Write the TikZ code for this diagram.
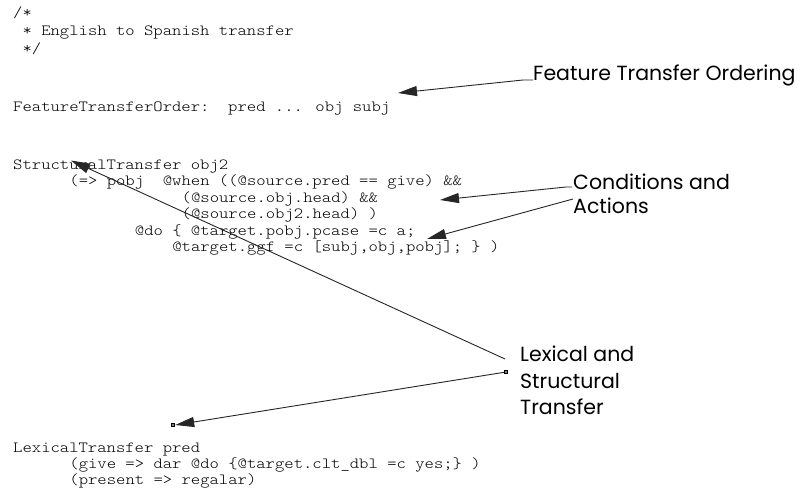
\documentclass[tikz,border=0pt]{standalone}
\usepackage{fontspec}
\usetikzlibrary{arrows.meta}
\newfontfamily\labfont{Poppins}
\newfontfamily\codefont[Extension=.otf,FakeStretch=1.149]{lmmonolt10-regular}
\tikzset{
  code/.style={anchor=base west, inner sep=0pt, font=\codefont\fontsize{15.5}{16}\selectfont},
  lab/.style={anchor=base west, inner sep=0pt, font=\labfont\fontsize{20.5}{22}\selectfont},
  pointer/.style={draw=black!85, line width=0.9pt, -{Triangle[length=19pt,width=10pt]}},
  endsq/.style={draw=black, fill=black!50, line width=0.9pt, inner sep=0pt, minimum size=3.5pt}
}
\begin{document}
\begin{tikzpicture}[x=1pt,y=-1pt]
\path[use as bounding box, fill=white] (0,0) rectangle (801,495);
% code
\node[code] (c1) at (13,18) {/*};
\node[code] (c2) at (22.4,36) {* English to Spanish transfer};
\node[code] (c3) at (22.4,54) {*/};
\node[code] (c4) at (13,111) {FeatureTransferOrder:~~pred ... obj subj};
\node[code] (c5) at (13,169) {StructuralTransfer obj2};
\node[code] (c6) at (69.2,185.5) {(=> pobj~~@when ((@source.pred == give) \&\&};
\node[code] (c7) at (181.5,202) {(@source.obj.head) \&\&};
\node[code] (c8) at (181.5,218.5) {(@source.obj2.head) )};
\node[code] (c9) at (134.7,235) {@do \{ @target.pobj.pcase =c a;};
\node[code] (c10) at (172.1,251.5) {@target.ggf =c [subj,obj,pobj]; \} )};
\node[code] (c11) at (13,452) {LexicalTransfer pred};
\node[code] (c12) at (69.2,468) {(give => dar @do \{@target.clt\_dbl =c yes;\} )};
\node[code] (c13) at (69.2,484) {(present => regalar)};
% labels
\node[lab] (fto) at (533,81) {Feature Transfer Ordering};
\node[lab] (conda) at (573,189) {Conditions and};
\node[lab] (condb) at (573,213.5) {Actions};
\node[lab] (lexa) at (520,361) {Lexical and};
\node[lab] (lexb) at (520,388) {Structural};
\node[lab] (lexc) at (520,414) {Transfer};
% connector ends
\coordinate (ftoS) at (533,80);
\coordinate (ftoK) at (523,80);
\coordinate (ftoT) at (398,93);
\coordinate (condS) at (572,187);
\coordinate (condK) at (566,187);
\coordinate (condT) at (440,200);
\coordinate (actS) at (573,199);
\coordinate (actT) at (427,239);
\coordinate (lexS) at (505,359);
\coordinate (lexT) at (71,160.5);
\node[endsq] (sqA) at (506,372) {};
\node[endsq] (sqB) at (173,425) {};
% connectors
\draw[pointer] (ftoS) -- (ftoK) -- (ftoT);
\draw[pointer] (condS) -- (condK) -- (condT);
\draw[pointer] (actS) -- (actT);
\draw[pointer] (lexS) -- (lexT);
\draw[pointer] (sqA) -- (sqB.east);
\end{tikzpicture}
\end{document}
